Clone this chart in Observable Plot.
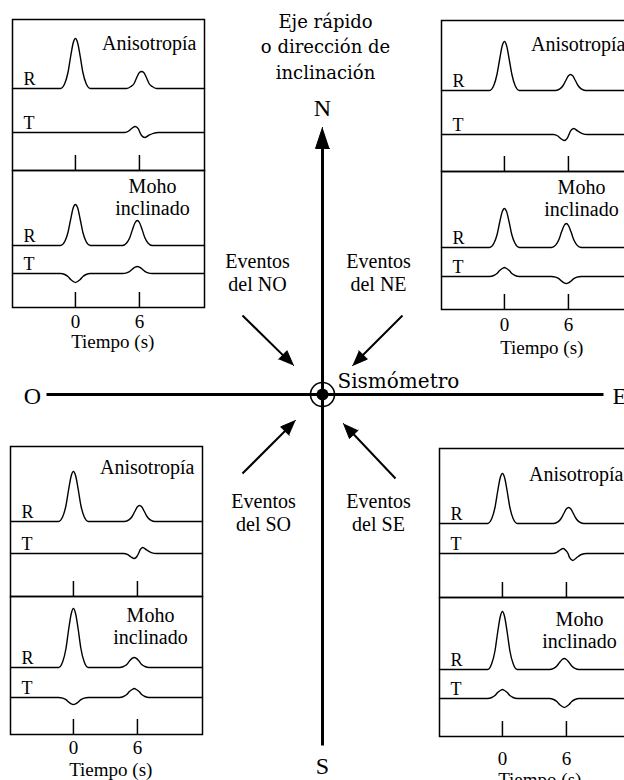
<!DOCTYPE html>
<html><head><meta charset="utf-8">
<script src="https://cdn.jsdelivr.net/npm/d3@7"></script>
<script src="https://cdn.jsdelivr.net/npm/@observablehq/plot@0.6"></script>
<style>
html,body{margin:0;padding:0;background:#fff;}
#root{position:relative;width:624px;height:780px;overflow:hidden;background:#fff;}
#root svg{position:absolute;overflow:visible;}
</style></head><body><div id="root"></div>
<script>
// ---------- DATA ----------
const timeTicks = [0, 6];
const timeLabel = "Tiempo (s)";
const anisLabel = "Anisotropía";
const mohoLabel = "Moho\ninclinado";
const componentLabels = ["R", "T"];

// traces: [time (s), amplitude]
const noAnisR = [[-5.9,0],[-1.4,0],[-1.0,5],[-0.7,16],[-0.45,32],[-0.2,46],[0,50],[0.2,46],[0.45,32],[0.7,16],[1.0,5],[1.4,0],
  [4.8,0],[5.2,2],[5.5,5],[5.75,11],[6.0,16],[6.2,17],[6.4,16],[6.65,11],[6.9,5],[7.2,2],[7.6,0],[12.1,0]];
const noAnisT = [[-5.9,0],[4.6,0],[5.0,1.5],[5.3,4.2],[5.6,6],[5.9,3.6],[6.05,0],[6.2,-3],[6.5,-5],[6.85,-3],[7.3,-0.8],[7.8,0],[12.1,0]];
const noMohoR = [[-5.9,0],[-1.4,0],[-1.0,4],[-0.7,13],[-0.45,26],[-0.2,38],[0,41],[0.2,38],[0.45,26],[0.7,13],[1.0,4],[1.4,0],
  [4.4,0],[4.8,2.5],[5.1,8],[5.35,16],[5.6,23],[5.8,25],[6.0,23],[6.25,16],[6.5,8],[6.8,2.5],[7.2,0],[12.1,0]];
const noMohoT = [[-5.9,0],[-1.4,0],[-1.0,-1],[-0.7,-3],[-0.45,-6],[-0.2,-8],[0,-9],[0.2,-8],[0.45,-6],[0.7,-3],[1.0,-1],[1.4,0],
  [4.4,0],[4.8,0.7],[5.1,2.2],[5.35,4.5],[5.6,6.4],[5.8,7],[6.0,6.4],[6.25,4.5],[6.5,2.2],[6.8,0.7],[7.2,0],[12.1,0]];

const neAnisR = [[-5.9,0],[-1.4,0],[-1.0,5],[-0.7,16],[-0.45,31],[-0.2,45],[0,49],[0.2,45],[0.45,31],[0.7,16],[1.0,5],[1.4,0],
  [4.8,0],[5.2,1.6],[5.5,5],[5.75,10],[6.0,14.7],[6.2,16],[6.4,14.7],[6.65,10],[6.9,5],[7.2,1.6],[7.6,0],[12.1,0]];
const neAnisT = [[-5.9,0],[4.6,0],[5.0,-1.5],[5.3,-4.2],[5.6,-6],[5.9,-3.6],[6.05,0],[6.2,3.6],[6.5,6],[6.85,3.6],[7.3,0.9],[7.8,0],[12.1,0]];
const neMohoR = [[-5.9,0],[-1.4,0],[-1.0,4],[-0.7,12.5],[-0.45,25],[-0.2,36],[0,39],[0.2,36],[0.45,25],[0.7,12.5],[1.0,4],[1.4,0],
  [4.4,0],[4.8,2.4],[5.1,7.7],[5.35,15.4],[5.6,22],[5.8,24],[6.0,22],[6.25,15.4],[6.5,7.7],[6.8,2.4],[7.2,0],[12.1,0]];
const neMohoT = [[-5.9,0],[-1.4,0],[-1.0,1],[-0.7,3],[-0.45,6],[-0.2,8],[0,9],[0.2,8],[0.45,6],[0.7,3],[1.0,1],[1.4,0],
  [4.4,0],[4.8,-0.7],[5.1,-2.2],[5.35,-4.5],[5.6,-6.4],[5.8,-7],[6.0,-6.4],[6.25,-4.5],[6.5,-2.2],[6.8,-0.7],[7.2,0],[12.1,0]];

const soAnisR = [[-5.9,0],[-1.4,0],[-1.0,5],[-0.7,16],[-0.45,32],[-0.2,46],[0,50],[0.2,46],[0.45,32],[0.7,16],[1.0,5],[1.4,0],
  [4.8,0],[5.2,1.6],[5.5,5],[5.75,10],[6.0,14.7],[6.2,16],[6.4,14.7],[6.65,10],[6.9,5],[7.2,1.6],[7.6,0],[12.1,0]];
const soAnisT = [[-5.9,0],[4.7,0],[5.1,-1.2],[5.4,-3.5],[5.7,-5],[5.95,-3],[6.1,0],[6.25,3.6],[6.5,6],[6.85,3.6],[7.3,0.9],[7.8,0],[12.1,0]];
const soMohoR = [[-5.9,0],[-1.4,0],[-1.0,6],[-0.7,19],[-0.45,38],[-0.2,54],[0,59],[0.2,54],[0.45,38],[0.7,19],[1.0,6],[1.4,0],
  [4.3,0],[4.7,1],[5.0,3],[5.25,6.4],[5.5,9.2],[5.7,10],[5.9,9.2],[6.15,6.4],[6.4,3],[6.7,1],[7.1,0],[12.1,0]];
const soMohoT = [[-5.9,0],[-1.4,0],[-1.0,-0.7],[-0.7,-2.2],[-0.45,-4.5],[-0.2,-6.4],[0,-7],[0.2,-6.4],[0.45,-4.5],[0.7,-2.2],[1.0,-0.7],[1.4,0],
  [4.3,0],[4.7,1],[5.0,3],[5.25,6],[5.5,8],[5.7,9],[5.9,8],[6.15,6],[6.4,3],[6.7,1],[7.1,0],[12.1,0]];

const seAnisR = [[-5.9,0],[-1.4,0],[-1.0,5],[-0.7,16],[-0.45,32],[-0.2,46],[0,50],[0.2,46],[0.45,32],[0.7,16],[1.0,5],[1.4,0],
  [4.8,0],[5.2,1.6],[5.5,5],[5.75,10],[6.0,14.7],[6.2,16],[6.4,14.7],[6.65,10],[6.9,5],[7.2,1.6],[7.6,0],[12.1,0]];
const seAnisT = [[-5.9,0],[4.7,0],[5.1,1.2],[5.4,3.5],[5.7,5],[5.95,3],[6.15,0],[6.3,-4.2],[6.6,-7],[6.95,-4.2],[7.4,-1],[7.9,0],[12.1,0]];
const seMohoR = [[-5.9,0],[-1.4,0],[-1.0,6],[-0.7,18.5],[-0.45,37],[-0.2,53],[0,58],[0.2,53],[0.45,37],[0.7,18.5],[1.0,6],[1.4,0],
  [4.4,0],[4.8,1.1],[5.1,3.5],[5.35,7],[5.6,10],[5.8,11],[6.0,10],[6.25,7],[6.5,3.5],[6.8,1.1],[7.2,0],[12.1,0]];
const seMohoT = [[-5.9,0],[-1.4,0],[-1.0,1],[-0.7,3],[-0.45,6],[-0.2,8],[0,9],[0.2,8],[0.45,6],[0.7,3],[1.0,1],[1.4,0],
  [4.4,0],[4.8,-1],[5.1,-3],[5.35,-6],[5.6,-8],[5.8,-9],[6.0,-8],[6.25,-6],[6.5,-3],[6.8,-1],[7.2,0],[12.1,0]];

// compass diagram (units = px from the seismometer, y up)
const titleLines = ["Eje rápido", "o dirección de", "inclinación"];
const stationLabel = "Sismómetro";
const cardinalNames = ["N", "S", "O", "E"];
const axisEndX = [0, 0, -276, 281];
const axisEndY = [267, -351, 0, 0];
const eventNames = ["Eventos\ndel NO", "Eventos\ndel NE", "Eventos\ndel SO", "Eventos\ndel SE"];
const eventFrom = [[-80, 79], [80, 79], [-80, -79], [73, -84]];
const eventTo = [[-29, 29], [30, 29], [-27, -26], [21, -29]];

// ---------- LAYOUT ----------
const serif = "'Liberation Serif', 'Times New Roman', serif";
const dejavu = "'DejaVu Serif', serif";
const xDom = [-5.9, 12.1];
const panelW = 192;
const panels = [
  {left:12,  top:19,  h:151, rBase:82, tBase:38, labelDy:30, r:noAnisR, t:noAnisT, kind:"anis"},
  {left:12,  top:170, h:137, rBase:62, tBase:34, labelDy:44, r:noMohoR, t:noMohoT, kind:"moho", tickDy:20, axisDy:40},
  {left:441, top:20,  h:151, rBase:81, tBase:37, labelDy:30, r:neAnisR, t:neAnisT, kind:"anis"},
  {left:441, top:171, h:138, rBase:62, tBase:33, labelDy:44, r:neMohoR, t:neMohoT, kind:"moho", tickDy:21, axisDy:44},
  {left:10,  top:446, h:150, rBase:75, tBase:43, labelDy:27, r:soAnisR, t:soAnisT, kind:"anis"},
  {left:10,  top:596, h:138, rBase:67, tBase:37, labelDy:47, r:soMohoR, t:soMohoT, kind:"moho", tickDy:19, axisDy:41},
  {left:439, top:448, h:149, rBase:74, tBase:44, labelDy:32, r:seAnisR, t:seAnisT, kind:"anis"},
  {left:439, top:597, h:139, rBase:67, tBase:38, labelDy:50, r:seMohoR, t:seMohoT, kind:"moho", tickDy:28, axisDy:49}
];

const root = document.getElementById("root");
const toPts = arr => arr.map(([t, a]) => ({t, a}));

// ---------- COMPASS ----------
function head(from, to, len, hw, id) {
  const dx = to[0] - from[0], dy = to[1] - from[1];
  const L = Math.hypot(dx, dy), ux = dx / L, uy = dy / L;
  const bx = to[0] - ux * len, by = to[1] - uy * len;
  return [{id, x: to[0], y: to[1]}, {id, x: bx - uy * hw, y: by + ux * hw}, {id, x: bx + uy * hw, y: by - ux * hw}];
}
const axisLines = cardinalNames.map((n, i) => {
  const isN = n === "N";
  return {x1: 0, y1: 0, x2: axisEndX[i], y2: isN ? axisEndY[i] - 18 : axisEndY[i]};
});
const heads = [...head([0, 0], [axisEndX[0], axisEndY[0]], 21, 7, "N")];
const eventShafts = eventFrom.map((f, i) => {
  const to = eventTo[i];
  const dx = to[0] - f[0], dy = to[1] - f[1], L = Math.hypot(dx, dy);
  return {x1: f[0], y1: f[1], x2: to[0] - dx / L * 12, y2: to[1] - dy / L * 12};
});
eventFrom.forEach((f, i) => heads.push(...head(f, eventTo[i], 15, 6, "e" + i)));

const cardinalPos = [
  {label: "N", x: 0, y: 279, anchor: "middle"},
  {label: "S", x: 0, y: -379, anchor: "middle"},
  {label: "O", x: -290, y: -9, anchor: "middle"},
  {label: "E", x: 290, y: -9, anchor: "start"}
];
const eventPos = [
  {label: eventNames[0], x: -65, y: 104},
  {label: eventNames[1], x: 56, y: 104},
  {label: eventNames[2], x: -59, y: -136},
  {label: eventNames[3], x: 56, y: -136}
];

const compass = Plot.plot({
  width: 624, height: 780, margin: 0,
  x: {domain: [-322, 302], axis: null},
  y: {domain: [-386, 394], axis: null},
  style: {background: "transparent", overflow: "visible"},
  marks: [
    Plot.link(axisLines, {x1: "x1", y1: "y1", x2: "x2", y2: "y2", stroke: "black", strokeWidth: 3}),
    Plot.link(eventShafts, {x1: "x1", y1: "y1", x2: "x2", y2: "y2", stroke: "black", strokeWidth: 2}),
    Plot.line(heads, {x: "x", y: "y", z: "id", fill: "black", stroke: "black", strokeWidth: 1, strokeLinejoin: "miter"}),
    Plot.dot([{x: 0, y: 0}], {x: "x", y: "y", r: 12, stroke: "black", strokeWidth: 1.6, fill: "none"}),
    Plot.dot([{x: 0, y: 0}], {x: "x", y: "y", r: 6, fill: "black"}),
    Plot.text([titleLines.join("\n")], {x: () => 3, y: () => 316, text: d => d, lineAnchor: "bottom", lineHeight: 1.39, fontFamily: dejavu, fontSize: 18, fill: "black"}),
    Plot.text([stationLabel], {x: () => 15, y: () => 7, text: d => d, textAnchor: "start", lineAnchor: "bottom", fontFamily: dejavu, fontSize: 20, fill: "black"}),
    Plot.text(cardinalPos.filter(d => d.anchor === "middle"), {x: "x", y: "y", text: "label", lineAnchor: "bottom", fontFamily: serif, fontSize: 24, fill: "black"}),
    Plot.text(cardinalPos.filter(d => d.anchor === "start"), {x: "x", y: "y", text: "label", textAnchor: "start", lineAnchor: "bottom", fontFamily: serif, fontSize: 24, fill: "black"}),
    Plot.text(eventPos, {x: "x", y: "y", text: "label", lineAnchor: "bottom", lineHeight: 1.15, fontFamily: serif, fontSize: 20, fill: "black"})
  ]
});
compass.style.left = "0px"; compass.style.top = "0px";
root.appendChild(compass);

// ---------- PANELS ----------
for (const p of panels) {
  const mb = p.kind === "moho" ? 60 : 0;
  const marks = [
    Plot.frame({stroke: "black", strokeWidth: 1.5}),
    Plot.ruleX(timeTicks, {x: d => d, y1: () => 0, y2: () => 15, stroke: "black", strokeWidth: 1.5}),
    Plot.line(toPts(p.r), {x: "t", y: d => p.rBase + d.a, curve: "monotone-x", stroke: "black", strokeWidth: 1.4}),
    Plot.line(toPts(p.t), {x: "t", y: d => p.tBase + d.a, curve: "monotone-x", stroke: "black", strokeWidth: 1.4}),
    Plot.text(componentLabels.map((c, i) => ({c, y: (i === 0 ? p.rBase : p.tBase) + 4})),
      {x: () => xDom[0], y: "y", text: "c", dx: 11, textAnchor: "start", lineAnchor: "bottom", fontFamily: serif, fontSize: 18, fill: "black"})
  ];
  if (p.kind === "anis") {
    marks.push(Plot.text([anisLabel], {text: d => d, frameAnchor: "top-right", dx: -8, dy: p.labelDy, textAnchor: "end", lineAnchor: "bottom", fontFamily: serif, fontSize: 20, fill: "black"}));
  } else {
    marks.push(Plot.text([mohoLabel], {text: d => d, frameAnchor: "top-left", dx: 140, dy: p.labelDy, textAnchor: "middle", lineAnchor: "bottom", lineHeight: 1.1, fontFamily: serif, fontSize: 20, fill: "black"}));
    marks.push(Plot.text(timeTicks, {x: d => d, y: () => -p.tickDy, text: d => String(d), lineAnchor: "bottom", fontFamily: serif, fontSize: 19, fill: "black"}));
    marks.push(Plot.text([timeLabel], {x: () => 3.5, y: () => -p.axisDy, text: d => d, lineAnchor: "bottom", fontFamily: serif, fontSize: 19, fill: "black"}));
  }
  const svg = Plot.plot({
    width: panelW, height: p.h + mb, margin: 0, marginBottom: mb,
    x: {domain: xDom, axis: null},
    y: {domain: [0, p.h], axis: null},
    style: {background: "transparent", overflow: "visible"},
    marks
  });
  svg.style.left = p.left + "px";
  svg.style.top = p.top + "px";
  root.appendChild(svg);
}
</script>
</body></html>
